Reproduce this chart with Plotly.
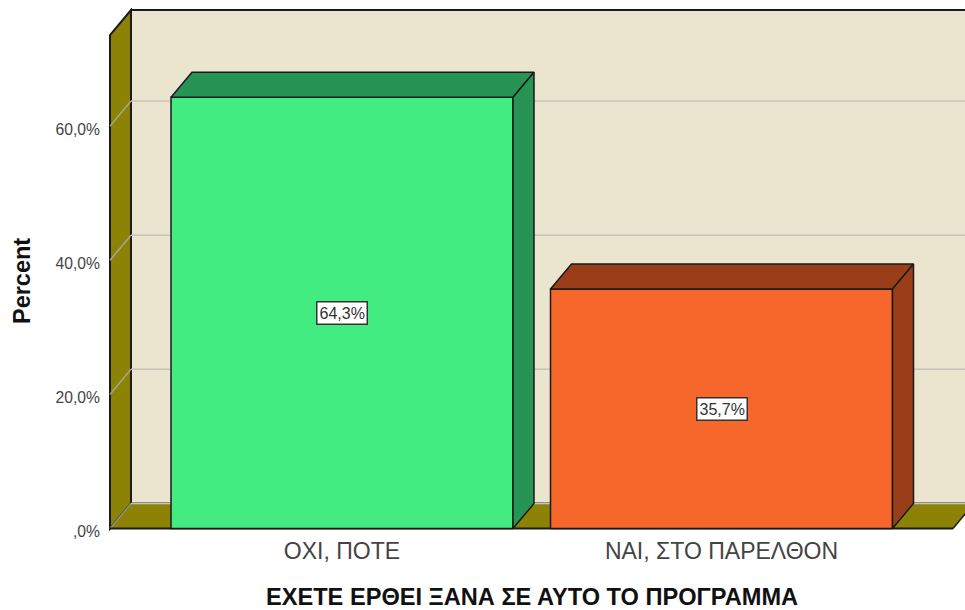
import plotly.graph_objects as go

categories = ["ΟΧΙ, ΠΟΤΕ", "ΝΑΙ, ΣΤΟ ΠΑΡΕΛΘΟΝ"]
values = [64.3, 35.7]
value_labels = ["64,3%", "35,7%"]
tick_values = [0, 20, 40, 60]
tick_labels = [",0%", "20,0%", "40,0%", "60,0%"]
x_title = "ΕΧΕΤΕ ΕΡΘΕΙ ΞΑΝΑ ΣΕ ΑΥΤΟ ΤΟ ΠΡΟΓΡΑΜΜΑ"
y_title = "Percent"

front_colors = ["#42EC80", "#F5672A"]
top_colors = ["#279355", "#993E18"]
WALL = "#EBE5D0"
OLIVE = "#8C8306"
GRID = "#C8C5B8"
EDGE = "#1a1a1a"
FONT = "Liberation Sans"

# scale: pixels per axis unit
PX_X, PX_Y = 379.5, 6.7
DX, DY = 21 / PX_X, 25 / PX_Y      # 3-D depth
BAR = 342 / PX_X
LEFT = -232 / PX_X                 # front-left corner
RIGHT = (953 - 342) / PX_X         # front-right corner
BACK = RIGHT + DX
X0, X1 = (108 - 342) / PX_X, (965 - 342) / PX_X
Y0, Y1 = -2.5 / PX_Y, 520 / PX_Y
TOP = 493 / PX_Y                   # front-left top corner


def path(pts):
    return "M" + " L".join(f"{x:.5f},{y:.4f}" for x, y in pts) + " Z"


shapes = []
shapes.append(dict(type="path", layer="below", line=dict(color=EDGE, width=2), fillcolor=WALL,
                   path=path([(LEFT + DX, DY), (BACK, DY), (BACK, TOP + DY), (LEFT + DX, TOP + DY)])))
shapes.append(dict(type="path", layer="below", line=dict(color=EDGE, width=2), fillcolor=OLIVE,
                   path=path([(LEFT, 0), (LEFT + DX, DY), (LEFT + DX, TOP + DY), (LEFT, TOP)])))
shapes.append(dict(type="path", layer="below", line=dict(color=EDGE, width=0), fillcolor=OLIVE,
                   path=path([(LEFT, 0), (LEFT + DX, DY), (BACK, DY), (RIGHT, 0)])))
shapes.append(dict(type="line", layer="below", x0=LEFT, y0=0, x1=LEFT + DX, y1=DY,
                   line=dict(color="#8f8f80", width=1.5)))
shapes.append(dict(type="line", layer="below", x0=LEFT + DX, y0=DY, x1=BACK, y1=DY,
                   line=dict(color=GRID, width=1.5)))
shapes.append(dict(type="line", layer="below", x0=LEFT, y0=0, x1=RIGHT, y1=0,
                   line=dict(color=EDGE, width=2)))
shapes.append(dict(type="line", layer="below", x0=RIGHT, y0=0, x1=BACK, y1=DY,
                   line=dict(color=EDGE, width=1.5)))
for t in tick_values[1:]:
    shapes.append(dict(type="line", layer="below", x0=LEFT, y0=t, x1=LEFT + DX, y1=t + DY,
                       line=dict(color="#A8A595", width=1.5)))
    shapes.append(dict(type="line", layer="below", x0=LEFT + DX, y0=t + DY, x1=BACK, y1=t + DY,
                       line=dict(color=GRID, width=1.5)))

fig = go.Figure()
xs = list(range(len(categories)))
fig.add_trace(go.Bar(x=xs, y=values, width=BAR, marker=dict(color=front_colors, line=dict(color=EDGE, width=1.5)),
                     showlegend=False, hoverinfo="skip"))

for x, v, c in zip(xs, values, top_colors):
    l, r = x - BAR / 2, x + BAR / 2
    fig.add_trace(go.Scatter(x=[l, r, r + DX, l + DX, l], y=[v, v, v + DY, v + DY, v], mode="lines", fill="toself",
                             fillcolor=c, line=dict(color=EDGE, width=1.5), showlegend=False, hoverinfo="skip"))
    fig.add_trace(go.Scatter(x=[r, r + DX, r + DX, r, r], y=[0, DY, v + DY, v, 0], mode="lines", fill="toself",
                             fillcolor=c, line=dict(color=EDGE, width=1.5), showlegend=False, hoverinfo="skip"))

annotations = [dict(x=x, y=v / 2, text=t, showarrow=False, bgcolor="white", bordercolor="#333333", borderwidth=1.5,
                    borderpad=2, font=dict(family=FONT, size=16, color="#333333"))
               for x, v, t in zip(xs, values, value_labels)]
annotations.append(dict(xref="x", yref="paper", x=190 / PX_X, y=0, yshift=-81, text=f"<b>{x_title}</b>",
                        showarrow=False, font=dict(family=FONT, size=23.6, color="#111111")))
annotations.append(dict(xref="paper", yref="y", x=0, xshift=-101, y=36.9, text=f"<b>{y_title}</b>", textangle=-90,
                        showarrow=False, font=dict(family=FONT, size=23.5, color="#111111")))

fig.update_layout(
    width=965, height=610,
    margin=dict(l=108, r=0, t=8.2, b=78.8, autoexpand=False),
    paper_bgcolor="white", plot_bgcolor="rgba(0,0,0,0)",
    shapes=shapes, annotations=annotations, showlegend=False,
    xaxis=dict(range=[X0, X1], tickvals=xs, ticktext=categories, showgrid=False, zeroline=False, showline=False,
               ticks="", tickfont=dict(family=FONT, size=23, color="#444444"), ticklabelstandoff=4),
    yaxis=dict(range=[Y0, Y1], tickvals=tick_values, ticktext=tick_labels, showgrid=False, zeroline=False,
               showline=False, ticks="", tickfont=dict(family=FONT, size=15.7, color="#444444"), ticklabelstandoff=7,
               ticklabelshift=3),
)
# Remove the page's default body margin so the figure fills the 965x610 window exactly
fig.write_html("out.html", config=dict(displayModeBar=False),
               post_script="document.body.style.margin='0';document.documentElement.style.overflow='hidden';")
